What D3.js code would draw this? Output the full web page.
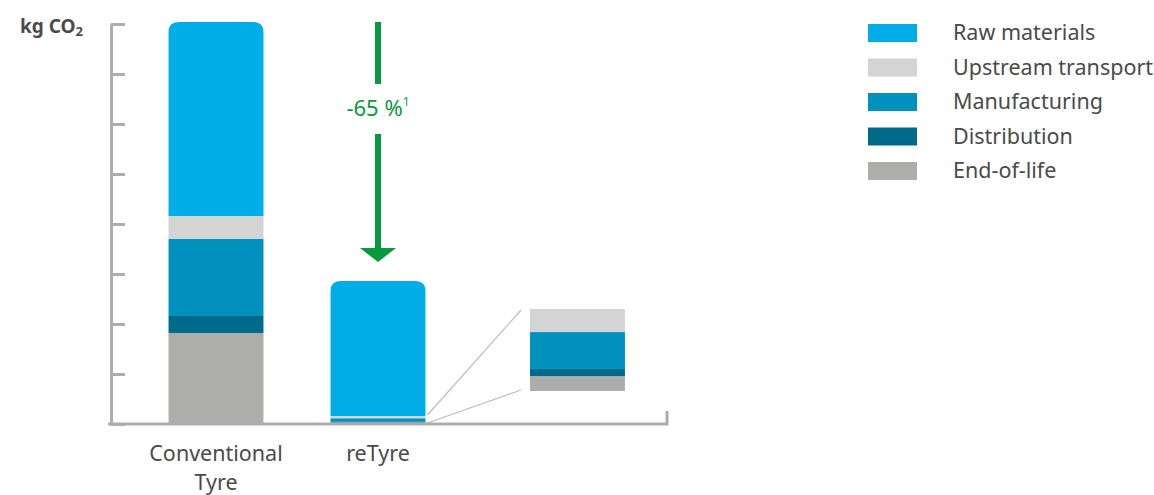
<!DOCTYPE html>
<html>
<head>
<meta charset="utf-8">
<script src="https://cdn.jsdelivr.net/npm/d3@7"></script>
<style>
  body { margin: 0; background: #fff; }
  text { font-family: "Noto Sans", sans-serif; fill: #4a4a4a; }
</style>
</head>
<body>
<div id="chart"></div>
<script>
const categories = ["Conventional Tyre", "reTyre"];
const stages = ["End-of-life", "Distribution", "Manufacturing", "Upstream transport", "Raw materials"];
const legendOrder = ["Raw materials", "Upstream transport", "Manufacturing", "Distribution", "End-of-life"];
// kg CO2 per stage (axis has no numbers, values in tick units)
const conventional = [1.82, 0.34, 1.54, 0.46, 3.88];
const retyre = [0.029, 0.014, 0.072, 0.045, 2.70];
const reduction = "-65 %";
const colors = {
  "Raw materials": "#00ade6",
  "Upstream transport": "#d4d4d4",
  "Manufacturing": "#0091bf",
  "Distribution": "#006a8a",
  "End-of-life": "#adadac"
};

const width = 1154, height = 495;
const svg = d3.select("#chart").append("svg")
  .attr("width", width).attr("height", height);

const x = d3.scaleBand().domain(categories).range([135, 459])
  .paddingInner(0.414).paddingOuter(0.207);
const y = d3.scaleLinear().domain([0, 8]).range([424, 24]);

// y axis
const yAxis = svg.append("g")
  .attr("transform", "translate(111,0)")
  .call(d3.axisRight(y).ticks(8).tickSizeInner(14).tickSizeOuter(0).tickFormat(""));
yAxis.selectAll("path, line").attr("stroke", "#adadad").attr("stroke-width", 3);

svg.append("text").attr("x", 20).attr("y", 33)
  .attr("font-size", 19).attr("font-weight", "bold")
  .text("kg CO").append("tspan").attr("font-size", 13).attr("dy", 3).text("2");

function stackOf(vals) {
  let acc = 0;
  return vals.map((v, i) => { const s = { key: stages[i], y0: acc, y1: acc + v }; acc += v; return s; });
}

function topRounded(x0, y0, w, h, r) {
  return `M${x0},${y0 + h}V${y0 + r}Q${x0},${y0} ${x0 + r},${y0}H${x0 + w - r}Q${x0 + w},${y0} ${x0 + w},${y0 + r}V${y0 + h}Z`;
}

[conventional, retyre].forEach((vals, ci) => {
  const cat = categories[ci];
  const segs = stackOf(vals);
  const g = svg.append("g");
  segs.forEach((s, i) => {
    const x0 = x(cat), w = x.bandwidth();
    const top = y(s.y1), h = y(s.y0) - y(s.y1);
    if (i === segs.length - 1) {
      g.append("path").attr("d", topRounded(x0, top, w, h, 10)).attr("fill", colors[s.key]);
    } else {
      g.append("rect").attr("x", x0).attr("y", top).attr("width", w).attr("height", h)
        .attr("fill", colors[s.key]);
    }
  });
});

// zoom inset for reTyre small stages
const small = retyre.slice(0, 4);
const smallSum = d3.sum(small);
const yi = d3.scaleLinear().domain([0, smallSum]).range([391, 309]);
const insetX = 530, insetW = x.bandwidth();
stackOf(small).forEach(s => {
  svg.append("rect").attr("x", insetX).attr("y", yi(s.y1))
    .attr("width", insetW).attr("height", yi(s.y0) - yi(s.y1))
    .attr("fill", colors[s.key]);
});
const rx = x("reTyre") + x.bandwidth() + 2;
svg.append("line").attr("x1", rx).attr("y1", y(smallSum) - 1).attr("x2", 521).attr("y2", yi(smallSum) + 1)
  .attr("stroke", "#bdbdbd").attr("stroke-width", 1.2);
svg.append("line").attr("x1", rx).attr("y1", y(0) - 1).attr("x2", 521).attr("y2", yi(0) - 1)
  .attr("stroke", "#bdbdbd").attr("stroke-width", 1.2);

// baseline
svg.append("path").attr("d", "M108,424H667V411")
  .attr("fill", "none").attr("stroke", "#adadad").attr("stroke-width", 3);

// x labels
svg.append("text").attr("x", x("Conventional Tyre") + x.bandwidth() / 2).attr("y", 461)
  .attr("text-anchor", "middle").attr("font-size", 21.5).text("Conventional");
svg.append("text").attr("x", x("Conventional Tyre") + x.bandwidth() / 2).attr("y", 490)
  .attr("text-anchor", "middle").attr("font-size", 21.5).text("Tyre");
svg.append("text").attr("x", x("reTyre") + x.bandwidth() / 2).attr("y", 461)
  .attr("text-anchor", "middle").attr("font-size", 21.5).text("reTyre");

// reduction arrow
const green = "#079a3c";
const ax = x("reTyre") + x.bandwidth() / 2;
svg.append("rect").attr("x", ax - 3).attr("y", y(d3.sum(conventional))).attr("width", 6).attr("height", 62).attr("fill", green);
svg.append("rect").attr("x", ax - 3).attr("y", 134).attr("width", 6).attr("height", 116).attr("fill", green);
svg.append("path").attr("d", `M${ax - 18},248H${ax + 18}L${ax},262Z`).attr("fill", green);
const lbl = svg.append("text").attr("x", ax).attr("y", 116).attr("text-anchor", "middle")
  .attr("font-size", 22).style("fill", green).text(reduction);
lbl.append("tspan").attr("font-size", 12).attr("dy", -10).text("1");

// legend
const leg = svg.append("g").attr("transform", "translate(868,24)");
legendOrder.forEach((k, i) => {
  const row = leg.append("g").attr("transform", `translate(0,${i * 34.5})`);
  row.append("rect").attr("width", 49).attr("height", 18).attr("fill", colors[k]);
  row.append("text").attr("x", 85).attr("y", 16).attr("font-size", 21.5).text(k);
});
</script>
</body>
</html>
